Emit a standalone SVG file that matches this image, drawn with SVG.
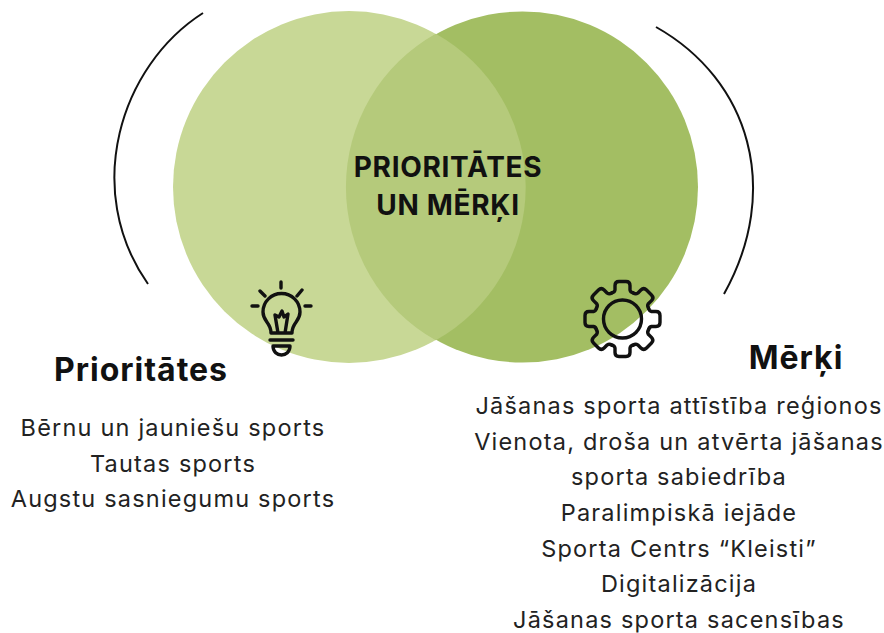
<svg xmlns="http://www.w3.org/2000/svg" width="884" height="633" viewBox="0 0 884 633">
<style>
text{font-family:Inter,"Open Sans","Liberation Sans",sans-serif;text-anchor:middle}
.b{font-size:23.500px;letter-spacing:1.200px;fill:#222}
.h{font-size:32px;font-weight:700;letter-spacing:1px;fill:#111}
.c{font-size:28px;font-weight:700;letter-spacing:.7px;fill:#111}
.arc{fill:none;stroke:#111;stroke-width:2}
.ic{fill:none;stroke:#111;stroke-width:3.400;stroke-linecap:round;stroke-linejoin:round}
</style>
<defs>
<path id="tooth" class="ic" d="M-11 -26Q-8 -26.500 -7.500 -29V-33.500Q-7.500 -37.500 -3.500 -37.500H3.500Q7.500 -37.500 7.500 -33.500V-29Q8 -26.500 11 -26"/>
</defs>
<rect width="884" height="633" fill="#fff"/>
<g id="venn">
<circle cx="349" cy="187" r="176" fill="#c8d896"/>
<circle cx="522.500" cy="187" r="175.500" fill="#a3be63"/>
<path d="M435.800 33.800A175.500 175.500 0 0 1 435.800 340.200A175.500 175.500 0 0 1 435.800 33.800Z" fill="#b5ca7b"/>
</g>
<g id="connectors">
<path class="arc" d="M203 13C120 66 82 190 148 284"/>
<path class="arc" d="M656 27C750 80 782 190 724 294"/>
</g>
<g id="center"><text class="c" x="448" y="177">PRIORITĀTES</text><text class="c" x="448" y="215">UN MĒRĶI</text></g>
<g id="bulb"><path class="ic" d="M271 333C271 322 263 322 263 312A18.500 18.500 0 0 1 300 312C300 322 292 322 292 333ZM270 340H293M273 346H290C290 358 273 358 273 346ZM281 282V288M260 291L265 296M302 290L297 296M252 306H258M305 306H311M278 333L275 315L279 317L282 311L284 317L288 314L285 333"/></g>
<g id="gear" transform="translate(622.500 319)"><use href="#tooth"/><use href="#tooth" transform="rotate(45)"/><use href="#tooth" transform="rotate(90)"/><use href="#tooth" transform="rotate(135)"/><use href="#tooth" transform="rotate(180)"/><use href="#tooth" transform="rotate(225)"/><use href="#tooth" transform="rotate(270)"/><use href="#tooth" transform="rotate(315)"/><circle class="ic" r="19"/></g>
<g id="prioritates"><text class="h" x="141" y="381">Prioritātes</text><text class="b" x="173" y="436">Bērnu un jauniešu sports</text><text class="b" x="173" y="472">Tautas sports</text><text class="b" x="173" y="507">Augstu sasniegumu sports</text></g>
<g id="merki"><text class="h" x="796" y="369">Mērķi</text><text class="b" x="679" y="414">Jāšanas sporta attīstība reģionos</text><text class="b" x="679" y="450">Vienota, droša un atvērta jāšanas</text><text class="b" x="679" y="485">sporta sabiedrība</text><text class="b" x="679" y="521">Paralimpiskā iejāde</text><text class="b" x="679" y="557">Sporta Centrs “Kleisti”</text><text class="b" x="679" y="592">Digitalizācija</text><text class="b" x="679" y="628">Jāšanas sporta sacensības</text></g>
</svg>
